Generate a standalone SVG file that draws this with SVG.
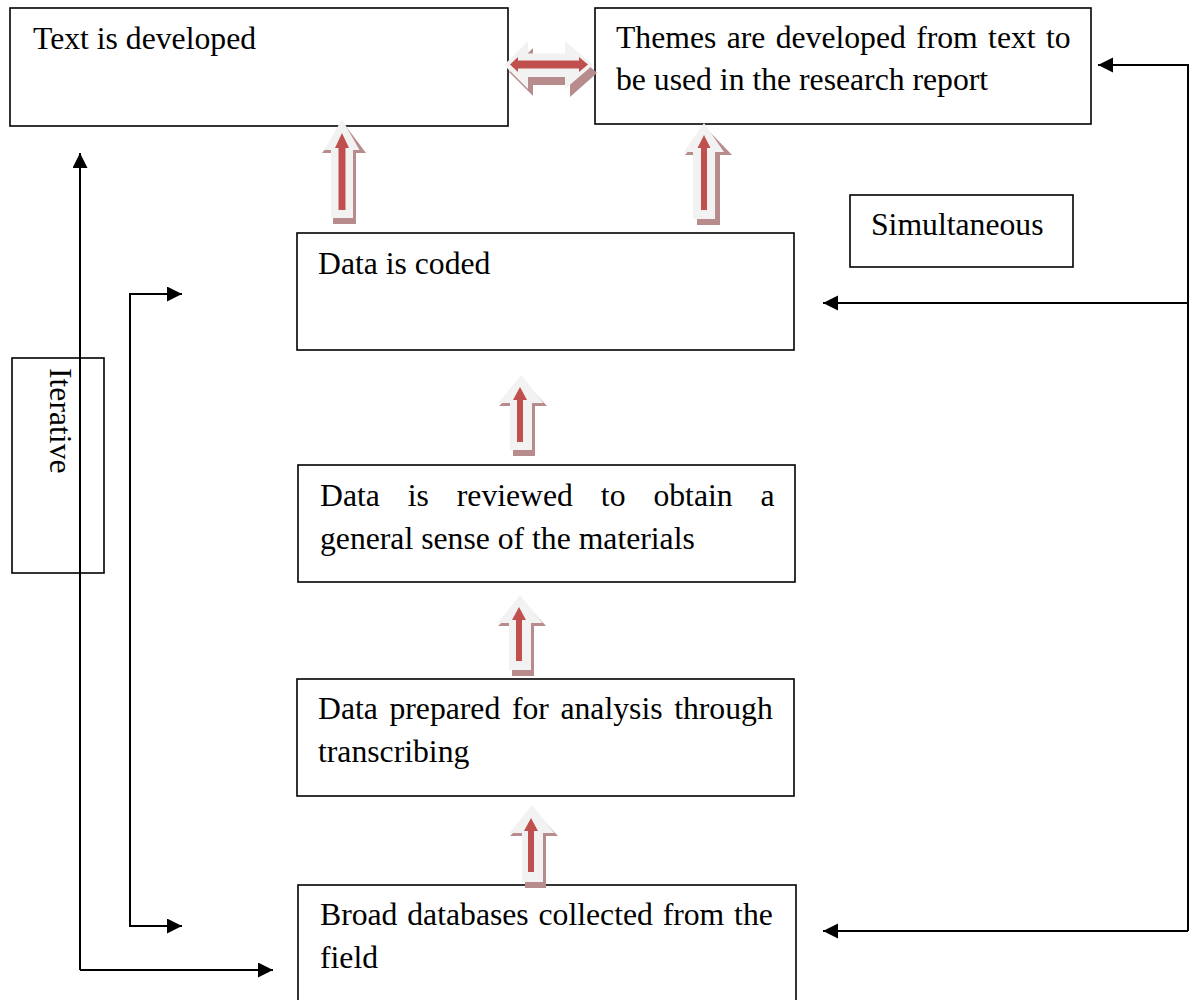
<svg xmlns="http://www.w3.org/2000/svg" width="1190" height="1000" viewBox="0 0 1190 1000">
<defs>
<style>
.box{fill:#fff;stroke:#000;stroke-width:1.6}
.t{font-family:"Liberation Serif","Times New Roman",serif;font-size:31.7px;fill:#000}
.ln{fill:none;stroke:#000;stroke-width:2}
.wh{fill:#f2f2f2}
.sh{fill:#b88c8c}
.rd{fill:#c0504d}
</style>
<marker id="ah" markerUnits="userSpaceOnUse" markerWidth="16" markerHeight="16" refX="15" refY="7.5" orient="auto">
<path d="M0,0 L15,7.5 L0,15 Z" fill="#000"/>
</marker>
</defs>
<rect width="1190" height="1000" fill="#fff"/>

<g id="n-text">
<rect class="box" x="10" y="8" width="498" height="118"/>
<text class="t" x="33" y="49">Text is developed</text>
</g>
<g id="n-themes">
<rect class="box" x="595" y="8" width="496" height="116"/>
<text class="t" x="616" y="48" word-spacing="2.4">Themes are developed from text to</text>
<text class="t" x="616" y="90">be used in the research report</text>
</g>
<g id="n-simul">
<rect class="box" x="850" y="195" width="223" height="72"/>
<text class="t" x="871" y="235">Simultaneous</text>
</g>
<g id="n-coded">
<rect class="box" x="297" y="233" width="497" height="117"/>
<text class="t" x="318" y="274">Data is coded</text>
</g>
<g id="n-reviewed">
<rect class="box" x="298" y="465" width="497" height="117"/>
<text class="t" x="320" y="506" word-spacing="20">Data is reviewed to obtain a</text>
<text class="t" x="320" y="549">general sense of the materials</text>
</g>
<g id="n-prepared">
<rect class="box" x="297" y="679" width="497" height="117"/>
<text class="t" x="318" y="719" word-spacing="3.7">Data prepared for analysis through</text>
<text class="t" x="318" y="762">transcribing</text>
</g>
<g id="n-broad">
<rect class="box" x="298" y="885" width="498" height="130"/>
<text class="t" x="320" y="925" word-spacing="1.9">Broad databases collected from the</text>
<text class="t" x="320" y="968">field</text>
</g>
<g id="n-iterative">
<rect class="box" x="12" y="358" width="92" height="215"/>
<text class="t" transform="translate(50,368) rotate(90)">Iterative</text>
</g>

<g id="connectors">
<path class="ln" d="M80,970 L80,153" marker-end="url(#ah)"/>
<path class="ln" d="M80,970 L273,970" marker-end="url(#ah)"/>
<path class="ln" d="M182,294 L130,294 L130,926 L182,926" />
<path class="ln" d="M165,294 L182,294" marker-end="url(#ah)"/>
<path class="ln" d="M165,926 L182,926" marker-end="url(#ah)"/>
<path class="ln" d="M1188,931 L1188,65 L1098,65" marker-end="url(#ah)"/>
<path class="ln" d="M1188,303 L823,303" marker-end="url(#ah)"/>
<path class="ln" d="M1188,931 L823,931" marker-end="url(#ah)"/>

<g id="dbl">
<path class="sh" d="M509,72 L533,48 L533,61 L570,61 L570,48 L597,73 L570,97 L570,85 L533,85 L533,96 Z"/>
<path class="wh" d="M504,65 L528,41 L528,53.5 L565,53.5 L565,41 L593,65 L565,89 L565,77 L528,77 L528,89 Z"/>
<path class="rd" d="M510,64.5 L518,57 L518,60.5 L579,60.5 L579,57 L588,64.5 L579,72 L579,68.5 L518,68.5 L518,72 Z"/>
</g>
<g id="up1">
<path class="sh" d="M345,125 L366,153 L356,153 L356,224 L333,224 L333,153 L322,153 Z"/>
<path class="wh" d="M342,119 L359.5,150 L353,150 L353,218 L331,218 L331,150 L324.5,150 Z"/>
<path class="rd" d="M342,133 L349,148 L345.5,148 L345.5,210 L338.5,210 L338.5,148 L335,148 Z"/>
</g>
<g id="up2">
<path class="sh" d="M707,129 L732,155 L720,155 L720,225 L697,225 L697,155 L685,155 Z"/>
<path class="wh" d="M704,123 L724,152 L715,152 L715,219 L693,219 L693,152 L684,152 Z"/>
<path class="rd" d="M704,135 L710.5,148 L707,148 L707,210 L701,210 L701,148 L697.5,148 Z"/>
</g>
<g id="up3">
<path class="sh" d="M524,381 L547,406 L535,406 L535,456 L513,456 L513,406 L499,406 Z"/>
<path class="wh" d="M521,375 L543.5,403 L532,403 L532,450 L510,450 L510,403 L498.5,403 Z"/>
<path class="rd" d="M520,387 L527,400 L523,400 L523,442 L517,442 L517,400 L513,400 Z"/>
</g>
<g id="up4">
<path class="sh" d="M523,601 L546,626 L534,626 L534,676 L512,676 L512,626 L498,626 Z"/>
<path class="wh" d="M520,595 L542.5,623 L531,623 L531,670 L509,670 L509,623 L497.5,623 Z"/>
<path class="rd" d="M519,607 L526,620 L522,620 L522,661 L516,661 L516,620 L512,620 Z"/>
</g>
<g id="up5">
<path class="sh" d="M535,811 L558,836 L546,836 L546,888 L525,888 L525,836 L510,836 Z"/>
<path class="wh" d="M532,805 L554.5,833 L543,833 L543,882 L522,882 L522,833 L509.5,833 Z"/>
<path class="rd" d="M531,818 L538,831 L534,831 L534,872 L528,872 L528,831 L524,831 Z"/>
</g>
</g>
</svg>
